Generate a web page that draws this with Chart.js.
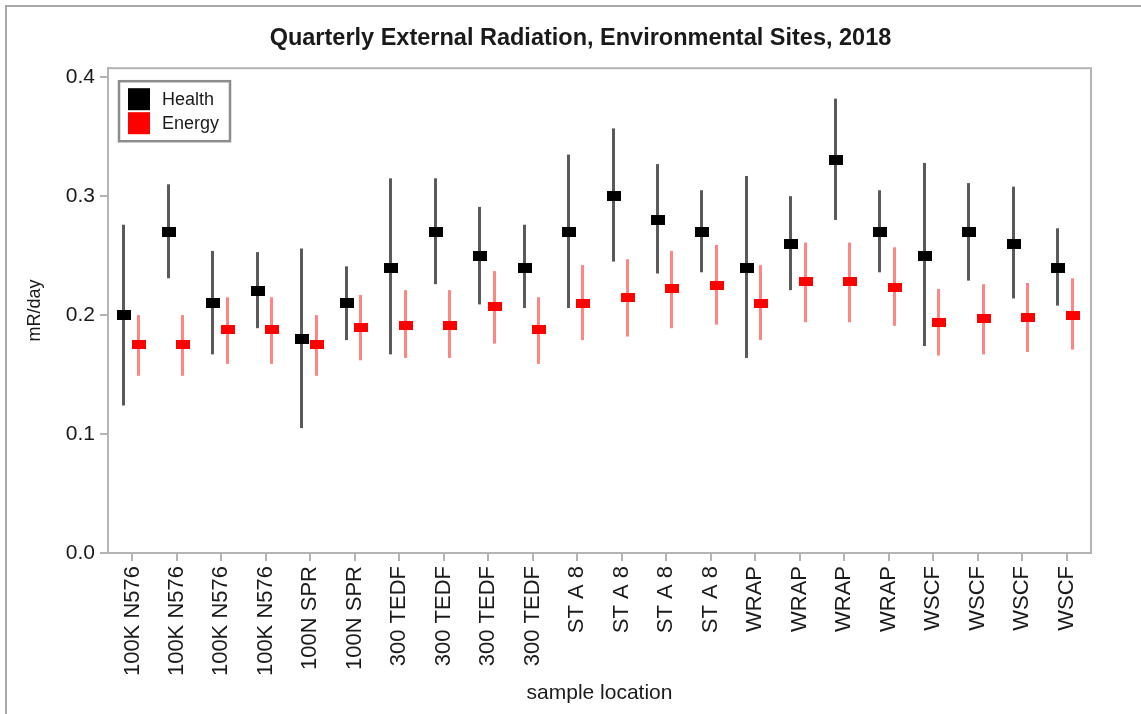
<!DOCTYPE html>
<html>
<head>
<meta charset="utf-8">
<script src="https://cdn.jsdelivr.net/npm/chart.js@4.4.1/dist/chart.umd.min.js"></script>
<style>
  body { margin: 0; background: #fff; }
  #wrap { width: 1141px; height: 714px; position: relative; }
</style>
</head>
<body>
<div id="wrap"><canvas id="myChart"></canvas></div>
<script>
const sites = [
    "100K N576", "100K N576", "100K N576", "100K N576",
    "100N SPR", "100N SPR",
    "300 TEDF", "300 TEDF", "300 TEDF", "300 TEDF",
    "ST A 8", "ST A 8", "ST A 8", "ST A 8",
    "WRAP", "WRAP", "WRAP", "WRAP",
    "WSCF", "WSCF", "WSCF", "WSCF",
];
const yTicks = [0, 0.1, 0.2, 0.3, 0.4];

const healthMean = [0.200, 0.270, 0.210, 0.220, 0.180, 0.210, 0.240, 0.270, 0.250, 0.240, 0.270, 0.300, 0.280, 0.270, 0.240, 0.260, 0.330, 0.270, 0.250, 0.270, 0.260, 0.240];
const healthLow = [0.124, 0.231, 0.167, 0.189, 0.105, 0.179, 0.167, 0.226, 0.209, 0.206, 0.206, 0.245, 0.235, 0.236, 0.164, 0.221, 0.280, 0.236, 0.174, 0.229, 0.214, 0.208];
const healthHigh = [0.276, 0.310, 0.254, 0.253, 0.256, 0.241, 0.315, 0.315, 0.291, 0.276, 0.335, 0.357, 0.327, 0.305, 0.317, 0.300, 0.382, 0.305, 0.328, 0.311, 0.308, 0.273];

const energyMean = [0.175, 0.175, 0.188, 0.188, 0.175, 0.190, 0.191, 0.191, 0.207, 0.188, 0.210, 0.215, 0.222, 0.225, 0.210, 0.228, 0.228, 0.223, 0.194, 0.197, 0.198, 0.200];
const energyLow = [0.149, 0.149, 0.159, 0.159, 0.149, 0.162, 0.164, 0.164, 0.176, 0.159, 0.179, 0.182, 0.189, 0.192, 0.179, 0.194, 0.194, 0.191, 0.166, 0.167, 0.169, 0.171];
const energyHigh = [0.200, 0.200, 0.215, 0.215, 0.200, 0.217, 0.221, 0.221, 0.237, 0.215, 0.242, 0.247, 0.254, 0.259, 0.242, 0.261, 0.261, 0.257, 0.222, 0.226, 0.227, 0.231];

const FONT = "'Liberation Sans', Arial, sans-serif";
const FRAME = "#b4b4b4";

// little filled rectangles used as point markers
function marker(w, h, color) {
    const c = document.createElement("canvas");
    c.width = w;
    c.height = h;
    const g = c.getContext("2d");
    g.fillStyle = color;
    g.fillRect(0, 0, w, h);
    return c;
}

function points(means, shift) {
    return means.map((v, i) => ({ x: i + shift, y: v }));
}

const errorBars = {
    id: "errorBars",
    beforeDatasetsDraw(chart) {
        const { ctx, scales } = chart;
        chart.data.datasets.forEach((ds) => {
            ctx.save();
            ctx.strokeStyle = ds.barColor;
            ctx.lineWidth = 3;
            ds.low.forEach((lo, i) => {
                const x = Math.round(scales.x.getPixelForValue(i + ds.shift)) - 0.5;
                ctx.beginPath();
                ctx.moveTo(x, scales.y.getPixelForValue(lo));
                ctx.lineTo(x, scales.y.getPixelForValue(ds.high[i]));
                ctx.stroke();
            });
            ctx.restore();
        });
    },
};

const frame = {
    id: "frame",
    beforeDraw(chart) {
        const { ctx, width, height } = chart;
        ctx.save();
        ctx.fillStyle = "#fff";
        ctx.fillRect(0, 0, width, height);
        ctx.strokeStyle = "#a8a8a8";
        ctx.lineWidth = 2;
        ctx.beginPath();
        ctx.moveTo(6, height);
        ctx.lineTo(6, 6);
        ctx.lineTo(width, 6);
        ctx.stroke();
        ctx.restore();
    },
    afterDraw(chart) {
        const { ctx, chartArea: a } = chart;
        ctx.save();
        ctx.strokeStyle = FRAME;
        ctx.lineWidth = 2;
        ctx.strokeRect(a.left, a.top, a.right - a.left, a.bottom - a.top);

        // legend box
        const bx = a.left + 11, by = a.top + 13;
        ctx.strokeStyle = "#8c8c8c";
        ctx.lineWidth = 2.5;
        ctx.strokeRect(bx, by, 111, 60);
        ctx.font = "18px " + FONT;
        ctx.textBaseline = "middle";
        chart.data.datasets.forEach((ds, k) => {
            ctx.fillStyle = ds.legendColor;
            ctx.fillRect(bx + 9, by + 7 + k * 24, 22, 22);
            ctx.fillStyle = "#1a1a1a";
            ctx.fillText(ds.label, bx + 43, by + 19 + k * 24);
        });
        ctx.restore();
    },
};

new Chart(document.getElementById("myChart"), {
    type: "scatter",
    data: {
        datasets: [
            {
                label: "Health",
                data: points(healthMean, -0.185),
                low: healthLow,
                high: healthHigh,
                shift: -0.185,
                barColor: "#5a5a5a",
                legendColor: "#000",
                pointStyle: marker(14, 10, "#000"),
            },
            {
                label: "Energy",
                data: points(energyMean, 0.14),
                low: energyLow,
                high: energyHigh,
                shift: 0.14,
                barColor: "#ff8585",
                legendColor: "#ff0000",
                pointStyle: marker(14, 9, "#ff0000"),
            },
        ],
    },
    options: {
        responsive: true,
        maintainAspectRatio: false,
        animation: false,
        events: [],
        layout: { padding: { top: 0, right: 0, bottom: 0, left: 20 } },
        plugins: {
            legend: { display: false },
            tooltip: { enabled: false },
            title: {
                display: true,
                text: "Quarterly External Radiation, Environmental Sites, 2018",
                color: "#1a1a1a",
                font: { family: FONT, size: 23.5, weight: "bold" },
                padding: { top: 24, bottom: 16 },
            },
        },
        scales: {
            x: {
                type: "linear",
                min: -0.55,
                max: 21.55,
                afterBuildTicks: (axis) => {
                    axis.ticks = sites.map((_, i) => ({ value: i }));
                },
                afterFit: (axis) => {
                    axis.height = 161;
                },
                grid: { drawOnChartArea: false, tickLength: 8, color: FRAME, lineWidth: 2 },
                border: { color: FRAME, width: 2 },
                ticks: {
                    autoSkip: false,
                    minRotation: 90,
                    maxRotation: 90,
                    padding: 5,
                    color: "#1a1a1a",
                    font: { family: FONT, size: 22 },
                    callback: (v) => sites[v],
                },
                title: {
                    display: true,
                    text: "sample location",
                    color: "#1a1a1a",
                    font: { family: FONT, size: 21 },
                    padding: { top: 0, bottom: 8 },
                },
            },
            y: {
                min: 0,
                max: 0.4076,
                afterBuildTicks: (axis) => {
                    axis.ticks = yTicks.map((v) => ({ value: v }));
                },
                afterFit: (axis) => {
                    axis.width = 88;
                },
                grid: { drawOnChartArea: false, tickLength: 8, color: FRAME, lineWidth: 2 },
                border: { color: FRAME, width: 2 },
                ticks: {
                    padding: 5,
                    color: "#1a1a1a",
                    font: { family: FONT, size: 21 },
                    callback: (v) => v.toFixed(1),
                },
                title: {
                    display: true,
                    text: "mR/day",
                    color: "#1a1a1a",
                    font: { family: FONT, size: 18 },
                    padding: { top: 4, bottom: 0 },
                },
            },
            // empty right-hand spacer so the plot ends where the reference's does
            spacer: {
                type: "linear",
                position: "right",
                grid: { display: false },
                border: { display: false },
                ticks: { display: false },
                afterFit: (axis) => {
                    axis.width = 50;
                },
            },
        },
    },
    plugins: [frame, errorBars],
});
</script>
</body>
</html>
